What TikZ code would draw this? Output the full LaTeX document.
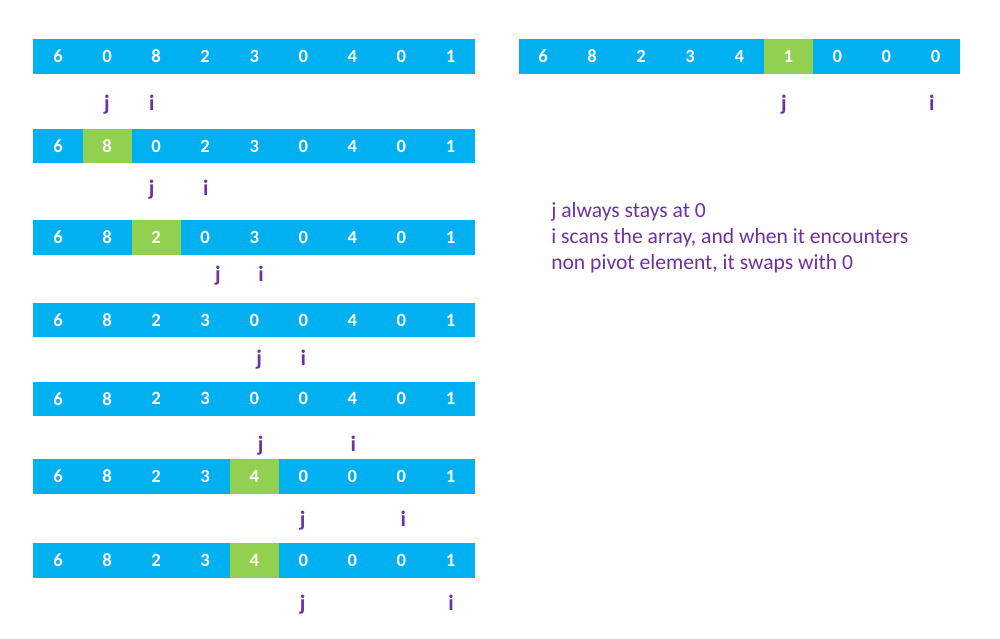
\documentclass[tikz,border=0pt]{standalone}
\usepackage{fontspec}
\setmainfont{Carlito}
\definecolor{barblue}{RGB}{0,176,240}
\definecolor{pivotgreen}{RGB}{146,208,80}
\definecolor{markpurple}{RGB}{112,48,160}
\tikzset{
  cell/.style={rectangle, inner sep=0pt, minimum width=36.8pt, minimum height=25.7pt,
    text=white, font=\fontsize{14}{16}\selectfont\bfseries},
  ptr/.style={anchor=base, inner sep=0pt, text=markpurple, font=\fontsize{16.5}{18}\selectfont\bfseries},
  note/.style={anchor=base west, inner sep=0pt, align=left, text=markpurple,
    font=\fontsize{16.2}{19.2}\selectfont}
}
% #1 row name, #2 left x, #3 top y, #4 values, #5 green cell (0 = none)
\newcommand{\cellrow}[5]{%
  \foreach \v [count=\k] in {#4} {
    \ifnum\k=#5\def\cc{pivotgreen}\else\def\cc{barblue}\fi
    \node[cell, fill=\cc] (#1-\k) at ({#2+(\k-0.5)*49.06},{#3+17.15}) {\v};
  }%
}
\begin{document}
\begin{tikzpicture}[x=0.75pt,y=0.75pt,yscale=-1,xscale=1]
\useasboundingbox (0,0) rectangle (1000,639);
% left column
\cellrow{ra}{33.5}{39.4}{6,0,8,2,3,0,4,0,1}{0}
\cellrow{rb}{33.5}{129}{6,8,0,2,3,0,4,0,1}{2}
\cellrow{rc}{33.5}{220.4}{6,8,2,0,3,0,4,0,1}{3}
\cellrow{rd}{33.5}{303}{6,8,2,3,0,0,4,0,1}{0}
\cellrow{re}{33.5}{381.7}{6,8,2,3,0,0,4,0,1}{0}
\cellrow{rf}{33.5}{459.4}{6,8,2,3,4,0,0,0,1}{5}
\cellrow{rg}{33.5}{543.3}{6,8,2,3,4,0,0,0,1}{5}
% right array
\cellrow{rh}{518.5}{39.4}{6,8,2,3,4,1,0,0,0}{6}
% pointers
\node[ptr] (ja) at (107,110.7) {j};
\node[ptr] (ia) at (151.7,110.7) {i};
\node[ptr] (jb) at (151.7,195.7) {j};
\node[ptr] (ib) at (205.7,195.7) {i};
\node[ptr] (jc) at (218,281.7) {j};
\node[ptr] (ic) at (261,281.7) {i};
\node[ptr] (jd) at (259.3,365.7) {j};
\node[ptr] (id) at (303.3,365.7) {i};
\node[ptr] (je) at (260.7,451) {j};
\node[ptr] (ie) at (353.3,451) {i};
\node[ptr] (jf) at (302.7,526) {j};
\node[ptr] (if) at (403.3,526) {i};
\node[ptr] (jg) at (302.7,610) {j};
\node[ptr] (ig) at (451,610) {i};
\node[ptr] (jh) at (784,110.7) {j};
\node[ptr] (ih) at (931.7,110.7) {i};
% explanation (base = last line)
\node[note] (txt) at (551,269) {j always stays at 0\\i scans the array, and when it encounters\\non pivot element, it swaps with 0};
\end{tikzpicture}
\end{document}
